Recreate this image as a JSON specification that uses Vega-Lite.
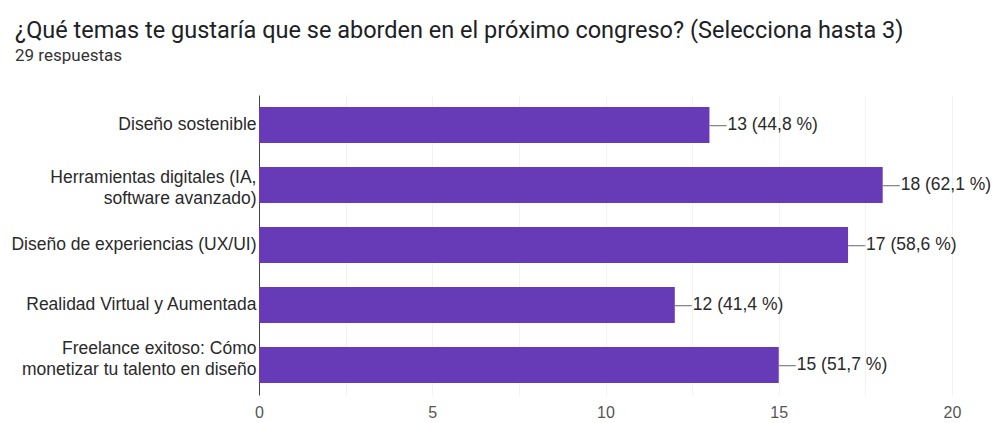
{
  "$schema": "https://vega.github.io/schema/vega-lite/v6.json",
  "width": 693,
  "height": 300,
  "autosize": {"type": "none"},
  "padding": {"left": 259, "top": 95, "right": 43, "bottom": 28},
  "background": "white",
  "title": {
    "text": "¿Qué temas te gustaría que se aborden en el próximo congreso? (Selecciona hasta 3)",
    "subtitle": "29 respuestas",
    "anchor": "start",
    "frame": "group",
    "dx": -244,
    "offset": 31,
    "font": "Roboto",
    "fontSize": 23.5,
    "fontWeight": "normal",
    "color": "#202124",
    "subtitleFont": "Roboto",
    "subtitleFontSize": 17,
    "subtitleColor": "#333333",
    "subtitlePadding": 6
  },
  "data": {
    "values": [
      {"tema": "Diseño sostenible", "n": 13, "etiqueta": "13 (44,8 %)"},
      {"tema": "Herramientas digitales (IA, software avanzado)", "n": 18, "etiqueta": "18 (62,1 %)"},
      {"tema": "Diseño de experiencias (UX/UI)", "n": 17, "etiqueta": "17 (58,6 %)"},
      {"tema": "Realidad Virtual y Aumentada", "n": 12, "etiqueta": "12 (41,4 %)"},
      {"tema": "Freelance exitoso: Cómo monetizar tu talento en diseño", "n": 15, "etiqueta": "15 (51,7 %)"}
    ]
  },
  "encoding": {
    "y": {
      "field": "tema",
      "type": "nominal",
      "sort": null,
      "scale": {"paddingInner": 0.4, "paddingOuter": 0.2},
      "axis": {
        "title": null,
        "labelFont": "Liberation Sans",
        "labelFontSize": 17.5,
        "labelColor": "#2a2a2a",
        "labelPadding": 3,
        "labelLimit": 0,
        "labelLineHeight": 21,
        "labelOffset": {"condition": [
          {"test": "indexof(datum.value, 'Herramientas') >= 0", "value": -7},
          {"test": "indexof(datum.value, 'Freelance') >= 0", "value": -16}
        ], "value": 0},
        "ticks": false,
        "domain": true,
        "domainColor": "#444444",
        "domainWidth": 1,
        "labelExpr": "datum.label == 'Herramientas digitales (IA, software avanzado)' ? ['Herramientas digitales (IA,', 'software avanzado)'] : datum.label == 'Freelance exitoso: Cómo monetizar tu talento en diseño' ? ['Freelance exitoso: Cómo', 'monetizar tu talento en diseño'] : datum.label"
      }
    },
    "x": {
      "field": "n",
      "type": "quantitative",
      "scale": {"domain": [0, 20], "nice": false},
      "axis": {
        "title": null,
        "values": [0, 2.5, 5, 7.5, 10, 12.5, 15, 17.5, 20],
        "labelExpr": "datum.value % 5 == 0 ? datum.label : ''",
        "labelFlush": false,
        "labelFont": "Liberation Sans",
        "labelFontSize": 16,
        "labelColor": "#555555",
        "labelPadding": 9,
        "ticks": false,
        "domain": false,
        "grid": true,
        "gridColor": "#f2f2f2"
      }
    }
  },
  "layer": [
    {"mark": {"type": "bar", "color": "#673ab7"}},
    {
      "mark": {"type": "text", "align": "left", "dx": 0, "font": "Liberation Sans", "fontSize": 17, "color": "#888888"},
      "encoding": {"text": {"value": "—"}}
    },
    {
      "mark": {"type": "text", "align": "left", "dx": 18, "font": "Liberation Sans", "fontSize": 17.5, "color": "#2a2a2a"},
      "encoding": {"text": {"field": "etiqueta"}}
    }
  ],
  "config": {"view": {"stroke": null}}
}
